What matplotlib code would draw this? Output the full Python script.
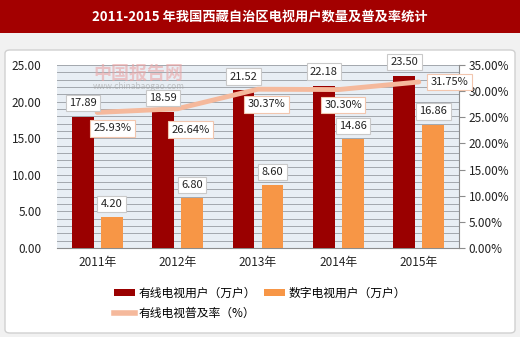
import matplotlib
matplotlib.use("Agg")
import matplotlib.pyplot as plt
from matplotlib.patches import Rectangle, FancyBboxPatch, Patch
from matplotlib.lines import Line2D
import numpy as np

plt.rcParams['font.family'] = ['Noto Sans CJK SC', 'DejaVu Sans']

title = "2011-2015 年我国西藏自治区电视用户数量及普及率统计"
years = ["2011年", "2012年", "2013年", "2014年", "2015年"]
cable_users = [17.89, 18.59, 21.52, 22.18, 23.50]
digital_users = [4.20, 6.80, 8.60, 14.86, 16.86]
cable_rate = [25.93, 26.64, 30.37, 30.30, 31.75]
left_ticks = [0, 5, 10, 15, 20, 25]
right_ticks = [0, 5, 10, 15, 20, 25, 30, 35]
legend_labels = ["有线电视用户（万户）", "数字电视用户（万户）", "有线电视普及率（%）"]

# label offsets for the rate labels (points)
rate_offsets = [(11, -11.5), (9.5, -15), (6, -11), (3.5, -11), (22, 0)]

W, H = 520, 337
fig = plt.figure(figsize=(W / 100, H / 100), dpi=100)
fig.patch.set_facecolor('#F1F1F1')

# title bar
fig.add_artist(Rectangle((0, 1 - 33 / H), 1, 33 / H, transform=fig.transFigure,
                         facecolor='#A30000', edgecolor='none', zorder=0))
fig.text(0.5, 1 - 16.5 / H, title, color='white', fontsize=9.5, fontweight='bold',
         ha='center', va='center')
# white panel
fig.add_artist(FancyBboxPatch((5 / W, 1 - 333 / H), 510 / W, 283 / H,
                              boxstyle="round,pad=0,rounding_size=0.01",
                              transform=fig.transFigure, facecolor='white',
                              edgecolor='#D0D0D0', lw=1.0, zorder=0))

x0, x1, y0, y1 = 57, 459, 65, 248
ax = fig.add_axes([x0 / W, 1 - y1 / H, (x1 - x0) / W, (y1 - y0) / H])
ax.set_facecolor('#E8EEF4')
x = np.arange(len(years))
bw = 0.27
off = 0.18
ax.bar(x - off, cable_users, bw, color='#9A0000', zorder=3)
ax.bar(x + off, digital_users, bw, color='#F79646', zorder=3)
ax.set_xlim(-0.5, len(years) - 0.5)
ax.set_ylim(0, 25)
ax.set_yticks(left_ticks)
ax.set_yticklabels([f"{v:.2f}" for v in left_ticks], fontsize=8.5, color='#222222')
ax.set_yticks(np.arange(0, 25.01, 1), minor=True)
ax.grid(axis='y', which='both', color='#A2A7AD', lw=0.7, zorder=1)
ax.tick_params(axis='y', which='both', length=0, pad=11)
ax.set_xticks(x)
ax.set_xticklabels(years, fontsize=8.5, color='#222222')
ax.tick_params(axis='x', length=0, pad=6)
for s in ['top', 'right', 'left']:
    ax.spines[s].set_visible(False)
ax.spines['bottom'].set_color('#8C8C8C')

ax2 = ax.twinx()
ax2.plot(x, cable_rate, color='#F5B99C', lw=3.5, solid_capstyle='round', zorder=2)
ax2.set_ylim(0, 35)
ax2.set_yticks(right_ticks)
ax2.set_yticklabels([f"{v:.2f}%" for v in right_ticks], fontsize=8.5, color='#222222')
ax2.tick_params(axis='y', length=4, color='#8C8C8C', pad=3)
for s in ['top', 'left', 'bottom']:
    ax2.spines[s].set_visible(False)
ax2.spines['right'].set_color('#8C8C8C')

# watermark
ax2.text(0.09, 0.955, "中国报告网", transform=ax2.transAxes, fontsize=13, color='#EBA4A4',
         alpha=0.6, ha='left', va='center', fontweight='bold', zorder=1)
ax2.text(0.09, 0.885, "www.chinabaogao.com", transform=ax2.transAxes, fontsize=6,
         color='#A0A0A0', alpha=0.6, ha='left', va='center', zorder=1)

box = dict(boxstyle='square,pad=0.3', facecolor='white', edgecolor='#C9C9C9', lw=0.8)
box2 = dict(boxstyle='square,pad=0.3', facecolor='white', edgecolor='#F2C6AE', lw=0.8)
for i in range(len(years)):
    ax2.annotate(f"{cable_users[i]:.2f}", (x[i] - off, cable_users[i]), xycoords=ax.transData,
                 xytext=(0, 10), textcoords='offset points', ha='center', va='center',
                 fontsize=8, color='#222222', bbox=box, zorder=5)
    ax2.annotate(f"{digital_users[i]:.2f}", (x[i] + off, digital_users[i]), xycoords=ax.transData,
                 xytext=(0, 9.5), textcoords='offset points', ha='center', va='center',
                 fontsize=8, color='#222222', bbox=box, zorder=5)
    ax2.annotate(f"{cable_rate[i]:.2f}%", (x[i], cable_rate[i]), xycoords='data',
                 xytext=rate_offsets[i], textcoords='offset points', ha='center', va='center',
                 fontsize=8, color='#222222', bbox=box2, zorder=5)

handles = [Patch(facecolor='#9A0000'), Line2D([0], [0], color='#F5B99C', lw=4),
           Patch(facecolor='#F79646')]
labels = [legend_labels[0], legend_labels[2], legend_labels[1]]
fig.legend(handles, labels, ncol=2, loc='upper center', bbox_to_anchor=(0.5, 1 - 276 / H),
           frameon=False, fontsize=8.5, handlelength=1.8, handleheight=0.6,
           handletextpad=0.3, columnspacing=0.6, labelspacing=0.6)

fig.savefig("out.png", dpi=100)
